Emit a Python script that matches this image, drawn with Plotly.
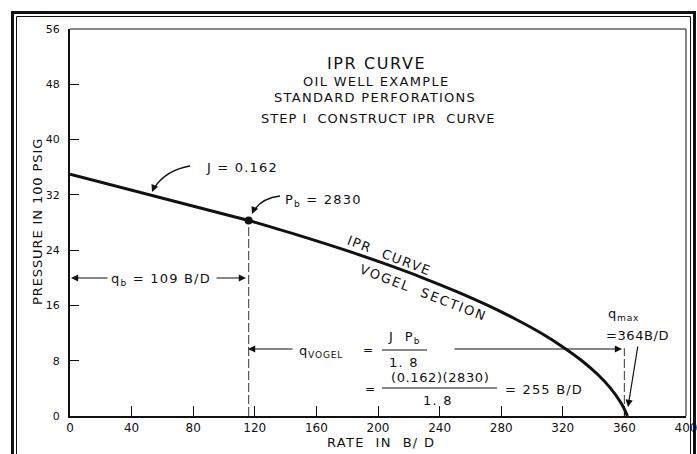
import plotly.graph_objects as go

# ---- data ----
# straight-line (J) section
q_line = [0, 116]
p_line = [35.0, 28.3]
# Vogel section (rate B/D, pressure 100 psig)
q_vogel = [116, 150.7, 178.8, 204.8, 229, 251.1, 271.3, 289.5, 305.8, 320, 332.4, 342.7, 351.1, 357.5, 360, 362]
p_vogel = [28.3, 26, 24, 22, 20, 18, 16, 14, 12, 10, 8, 6, 4, 2, 1, 0]
# bubble point
q_b_pt = [116]
p_b_pt = [28.3]
# q_max reference line
q_max_ref = [360, 360]
p_max_ref = [0, 9.8]

x_ticks = [0, 40, 80, 120, 160, 200, 240, 280, 320, 360, 400]
y_ticks = [0, 8, 16, 24, 32, 40, 48, 56]

FONT = "DejaVu Sans"
INK = "#111111"

L, R, T, B = 70, 686, 29, 416
W, H = 697, 454


def px(x):
    return (x - L) / (R - L)


def py(y):
    return (B - y) / (B - T)


fig = go.Figure()

# dashed vertical at q_b
fig.add_trace(go.Scatter(x=[q_b_pt[0], q_b_pt[0]], y=[0, p_b_pt[0]], mode="lines",
                         line=dict(color="#555555", width=1.2, dash="9px,3px"),
                         hoverinfo="skip", showlegend=False))
# dashed vertical at q_max
fig.add_trace(go.Scatter(x=q_max_ref, y=p_max_ref, mode="lines",
                         line=dict(color="#555555", width=1.2, dash="9px,3px"),
                         hoverinfo="skip", showlegend=False))
# IPR curve
fig.add_trace(go.Scatter(x=q_line, y=p_line, mode="lines",
                         line=dict(color=INK, width=3), showlegend=False))
fig.add_trace(go.Scatter(x=q_vogel, y=p_vogel, mode="lines",
                         line=dict(color=INK, width=3, shape="spline"), showlegend=False))
fig.add_trace(go.Scatter(x=q_b_pt, y=p_b_pt, mode="markers",
                         marker=dict(color=INK, size=8), showlegend=False))

shapes = []
# plot top and right thin borders
shapes.append(dict(type="line", xref="paper", yref="paper", x0=0, x1=1, y0=1, y1=1,
                   line=dict(color=INK, width=1)))
shapes.append(dict(type="line", xref="paper", yref="paper", x0=1, x1=1, y0=0, y1=1,
                   line=dict(color=INK, width=1)))
# outer double frame
shapes.append(dict(type="rect", xref="paper", yref="paper", x0=px(12.5), x1=px(694.5),
                   y0=py(470), y1=py(12.5), line=dict(color=INK, width=3)))
shapes.append(dict(type="rect", xref="paper", yref="paper", x0=px(16.5), x1=px(690.5),
                   y0=py(466), y1=py(16.5), line=dict(color=INK, width=1)))


def curve(x0, y0, cx, cy, x1, y1):
    return dict(type="path", xref="paper", yref="paper",
                path=f"M {px(x0)},{py(y0)} Q {px(cx)},{py(cy)} {px(x1)},{py(y1)}",
                line=dict(color=INK, width=1.3))


# curved leader lines
shapes.append(curve(190, 166, 166, 170, 154, 188))
shapes.append(curve(280, 196, 263, 198, 255, 209))
# fraction bars
shapes.append(dict(type="line", xref="paper", yref="paper", x0=px(382), x1=px(427),
                   y0=py(350), y1=py(350), line=dict(color=INK, width=1.2)))
shapes.append(dict(type="line", xref="paper", yref="paper", x0=px(382), x1=px(497),
                   y0=py(388), y1=py(388), line=dict(color=INK, width=1.2)))

ann = []


def text(x, y, s, size=13, anchor="center", angle=0, ls=1.2):
    if ls:
        s = f'<span style="letter-spacing:{ls}px">{s}</span>'
    ann.append(dict(x=px(x), y=py(y), xref="paper", yref="paper", text=s, showarrow=False,
                    xanchor=anchor, yanchor="middle", textangle=angle,
                    font=dict(family=FONT, size=size, color=INK)))


def arrow(hx, hy, ax, ay, head=2, size=1.2, width=1.2):
    ann.append(dict(x=px(hx), y=py(hy), xref="paper", yref="paper", text="", showarrow=True,
                    ax=ax, ay=ay, arrowhead=head, arrowsize=size, arrowwidth=width,
                    arrowcolor=INK, standoff=0, startstandoff=0))


# titles
text(376, 63, "IPR CURVE", 16, ls=1.6)
text(376, 81, "OIL WELL EXAMPLE", 13, ls=1.3)
text(375, 97, "STANDARD PERFORATIONS", 13, ls=1.3)
text(378, 118, "STEP I  CONSTRUCT IPR  CURVE", 13, ls=1.0)

# J
text(204, 167, "J = 0.162", 13, "left")
arrow(152, 192, 3, -7)
# Pb
text(283, 200, "P<sub>b</sub> = 2830", 13, "left")
arrow(252, 214, 3, -7)

# q_b
text(161, 279, "q<sub>b</sub> = 109 B/D", 13)
arrow(71, 278, 38, 0)
arrow(246, 278, -31, 0)

# curve labels
text(389, 255, "IPR  CURVE", 13, angle=21, ls=1.6)
text(423, 292, "VOGEL  SECTION", 13, angle=21, ls=1.8)

# q_vogel
text(297, 351, "q<sub>VOGEL</sub>", 13, "left", ls=0.8)
text(368, 350, "=", 12)
text(404, 337, "J  P<sub>b</sub>", 13)
text(404, 362, "1. 8", 13)
arrow(248, 349, 46, 0)
arrow(622, 349, -169, 0)
text(370, 389, "=", 12)
text(440, 377, "(0.162)(2830)", 13, ls=0.6)
text(438, 400, "1. 8", 13)
text(503, 389, "= 255 B/D", 13, "left")

# q_max
text(606, 314, "q<sub>max</sub>", 13, "left", ls=0.8)
text(604, 335, "=364B/D", 13, "left", ls=0.6)
arrow(628, 407, 10, -62)

# axis titles
text(38, 222, "PRESSURE IN 100 PSIG", 13, angle=-90, ls=0.9)
text(381, 443, "RATE  IN  B/ D", 13, ls=1.3)

fig.update_layout(
    width=W, height=H,
    margin=dict(l=L, r=W - R, t=T, b=H - B, pad=0, autoexpand=False),
    paper_bgcolor="white", plot_bgcolor="white",
    shapes=shapes, annotations=ann, showlegend=False,
    xaxis=dict(range=[0, 400], tickvals=x_ticks, ticktext=[str(v) for v in x_ticks],
               ticks="inside", ticklen=10, tickcolor=INK, tickwidth=1.2,
               showline=True, linecolor=INK, linewidth=2, mirror=False,
               showgrid=False, zeroline=False, ticklabeloverflow="allow",
               automargin=False,
               tickfont=dict(family=FONT, size=12, color=INK)),
    yaxis=dict(range=[0, 56], tickvals=y_ticks, ticktext=[str(v) for v in y_ticks],
               ticks="inside", ticklen=9, tickcolor=INK, tickwidth=1.2,
               showline=True, linecolor=INK, linewidth=2, mirror=False,
               showgrid=False, zeroline=False, ticklabelstandoff=6,
               automargin=False,
               tickfont=dict(family=FONT, size=11, color=INK)),
)

fig.write_html("out.html")
